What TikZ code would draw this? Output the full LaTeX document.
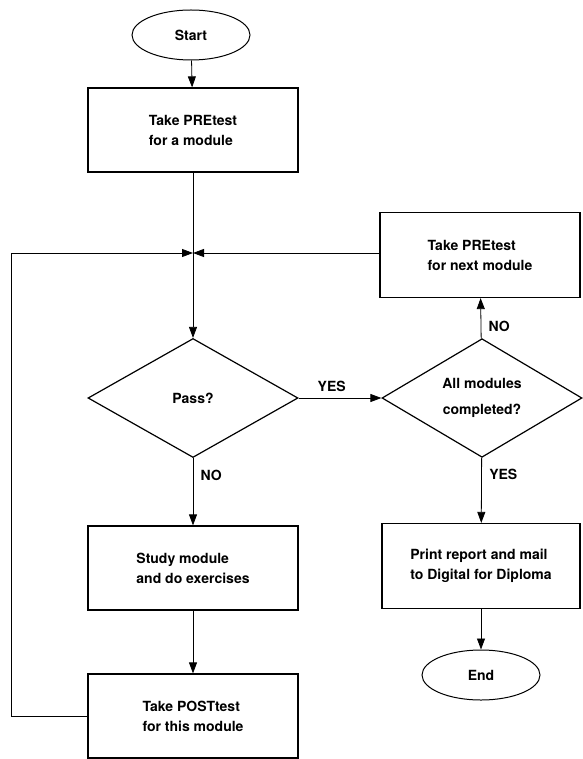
\documentclass[tikz,border=0pt]{standalone}
\usepackage{fontspec}
\setmainfont{TeX Gyre Heros}
\usetikzlibrary{arrows.meta,shapes.geometric}

\begin{document}
\begin{tikzpicture}[x=1pt, y=-1pt, font=\bfseries\fontsize{14}{20}\selectfont,
	box/.style={draw, line width=1.2pt, minimum width=210pt, minimum height=84pt, align=left},
	test/.style={draw, diamond, line width=1.2pt, inner sep=0pt, minimum width=210pt, minimum height=119pt, align=center},
	term/.style={draw, ellipse, line width=1pt, minimum width=118pt, minimum height=50pt},
	arr/.style={-{Triangle[length=11pt, width=8pt]}, line width=0.8pt}]
\useasboundingbox (0,0) rectangle (582,759);
\node[term] (start) at (191,35) {Start};
\node[box] (pre) at (193,130) {Take PREtest\\for a module};
\coordinate (join) at (193,253);
\node[test] (pass) at (193,398) {Pass?};
\node[box] (study) at (193,568) {Study module\\and do exercises};
\node[box] (post) at (193,716) {Take POSTtest\\for this module};
\node[box, minimum width=200pt, minimum height=85pt] (next) at (480,255) {Take PREtest\\for next module};
\node[test, minimum width=200pt, minimum height=117pt] (all) at (482,398) {All modules\\[6pt]completed?};
\node[box, minimum width=198pt, minimum height=85pt] (print) at (481,566) {Print report and mail\\to Digital for Diploma};
\node[term] (end) at (481,675) {End};

\path[arr]
(start) edge (pre)
(join) edge (pass)
(pass) edge node [pos=0.25, right=4pt] {NO} (study)
	edge node [above=3pt, pos=0.4] {YES} (all)
(study) edge (post)
(next.west |- join) edge (join)
(all) edge node [pos=0.3, right=4pt] {NO} (next)
	edge node [pos=0.25, right=4pt] {YES} (print)
(print) edge (end);
\draw[line width=0.8pt] (pre) -- (join);
\draw[arr] (post.west) -- ++(-76,0) |- (join);
\end{tikzpicture}
\end{document}
